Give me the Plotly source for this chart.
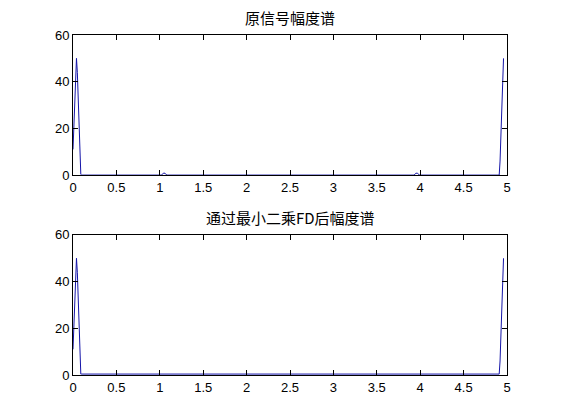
import plotly.graph_objects as go

# Data (frequency axis 0..5)
top_x = [0.00, 0.01, 0.02, 0.03, 0.04, 0.05, 0.06, 0.07, 0.08, 0.09, 0.10,
         1.02, 1.04, 1.06, 1.08, 3.93, 3.95, 3.97, 3.99,
         4.91, 4.92, 4.93, 4.94, 4.95, 4.96]
top_y = [11, 22, 33, 44, 50, 44, 31, 19, 6, 0.3, 0,
         0, 0.8, 0.8, 0, 0, 0.8, 0.8, 0,
         0, 6, 19, 31, 44, 50]

bot_x = [0.00, 0.01, 0.02, 0.03, 0.04, 0.05, 0.06, 0.07, 0.08, 0.09, 0.10,
         4.90, 4.91, 4.92, 4.93, 4.94, 4.95, 4.96]
bot_y = [11, 22, 33, 44, 50, 44, 31, 19, 6, 0.4, 0.4,
         0.4, 0.4, 6, 19, 31, 44, 50]

titles = ["原信号幅度谱", "通过最小二乘FD后幅度谱"]
x_ticks = [0, 0.5, 1, 1.5, 2, 2.5, 3, 3.5, 4, 4.5, 5]
x_tick_text = ["0", "0.5", "1", "1.5", "2", "2.5", "3", "3.5", "4", "4.5", "5"]
y_ticks = [0, 20, 40, 60]

line_color = "#1414a8"

fig = go.Figure()
fig.add_trace(go.Scatter(x=top_x, y=top_y, mode="lines",
                         line=dict(color=line_color, width=1),
                         xaxis="x", yaxis="y", showlegend=False))
fig.add_trace(go.Scatter(x=bot_x, y=bot_y, mode="lines",
                         line=dict(color=line_color, width=1),
                         xaxis="x2", yaxis="y2", showlegend=False))

axis_common = dict(showgrid=False, zeroline=False, showline=True, mirror="ticks",
                   linecolor="black", linewidth=1, ticks="inside", ticklen=5,
                   tickcolor="black", tickfont=dict(family="Liberation Sans", size=13, color="black"))

fig.update_layout(
    width=561, height=420,
    margin=dict(l=65, r=62, t=27, b=53),
    paper_bgcolor="white", plot_bgcolor="white",
    xaxis=dict(domain=[0, 1], anchor="y", range=[0, 5], tickvals=x_ticks,
               ticktext=x_tick_text, **axis_common),
    yaxis=dict(domain=[0.588, 1], anchor="x", range=[0, 60], tickvals=y_ticks, **axis_common),
    xaxis2=dict(domain=[0, 1], anchor="y2", range=[0, 5], tickvals=x_ticks,
                ticktext=x_tick_text, **axis_common),
    yaxis2=dict(domain=[0, 0.412], anchor="x2", range=[0, 60], tickvals=y_ticks, **axis_common),
    annotations=[
        dict(text=titles[0], xref="paper", yref="paper", x=0.5, y=1, yshift=5,
             xanchor="center", yanchor="bottom", showarrow=False,
             font=dict(family="Noto Sans CJK SC", size=15, color="black")),
        dict(text=titles[1], xref="paper", yref="paper", x=0.5, y=0.412, yshift=5,
             xanchor="center", yanchor="bottom", showarrow=False,
             font=dict(family="Noto Sans CJK SC", size=15, color="black")),
    ],
)

fig.write_html("out.html")
